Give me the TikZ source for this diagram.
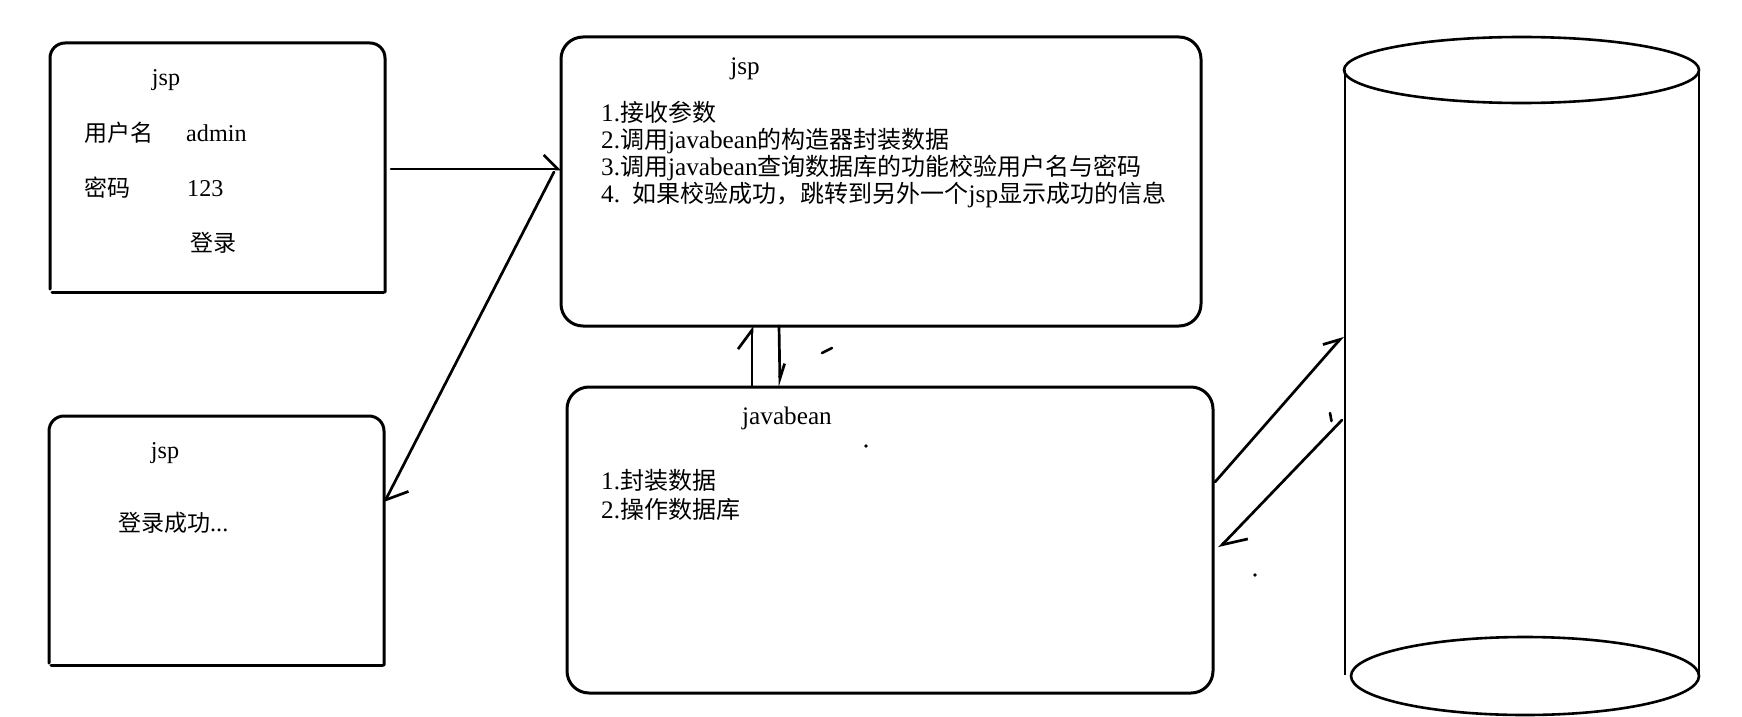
\documentclass[tikz,border=0pt]{standalone}
\usepackage{fontspec}
\setmainfont{Liberation Serif}[Scale=1.05]
\newfontfamily\cjkf{Noto Sans CJK SC}
\newcommand{\zhs}[1]{{\cjkf #1}}
\usetikzlibrary{arrows.meta,calc}
\begin{document}
\begin{tikzpicture}[x=1pt,y=-1pt,
  boxline/.style={line width=3pt, line cap=round, line join=round},
  frame/.style={inner sep=0pt, outer sep=0pt},
  rbox/.style={draw, line width=3pt, rounded corners=22pt, inner sep=0pt, outer sep=0pt},
  txtA/.style={inner sep=0pt, font=\fontsize{23}{27}\selectfont, text height=0.8em, text depth=0.15em},
  txtB/.style={inner sep=0pt, font=\fontsize{24}{28}\selectfont, text height=0.8em, text depth=0.15em},
  arr/.style={line width=2.7pt, line cap=round},
  cyl/.style={line width=2.6pt},
  penmark/.style={line width=2.6pt, line cap=round}]
\useasboundingbox (0,0) rectangle (1742,717);

% ---- login jsp (A) ----
\node[frame, minimum width=335pt, minimum height=249pt] (A) at (217.5,167.5) {};
\draw[boxline] ($(A.south west)+(0,-3)$) [rounded corners=15pt] -- (A.north west) -- (A.north east) [sharp corners] -- (A.south east);
\draw[boxline] ($(A.south west)+(2,0)$) -- ($(A.south east)+(-1,0)$);
\node[txtA] (A0) at (166,82) {jsp};
\node[txtA, anchor=west] (A1) at (84,138) {\zhs{用户名}};
\node[txtA, anchor=west] (A2) at (186,138) {admin};
\node[txtA, anchor=west] (A3) at (84,193) {\zhs{密码}};
\node[txtA, anchor=west] (A4) at (187,193) {123};
\node[txtA] (A5) at (213,248) {\zhs{登录}};

% ---- success jsp (D) ----
\node[frame, minimum width=335pt, minimum height=249pt] (D) at (216.5,540.5) {};
\draw[boxline] ($(D.south west)+(0,-2)$) [rounded corners=15pt] -- (D.north west) -- (D.north east) [sharp corners] -- (D.south east);
\draw[boxline] ($(D.south west)+(2,0)$) -- ($(D.south east)+(-1,0)$);
\node[txtA] (D0) at (165,455) {jsp};
\node[txtA, anchor=west] (D1) at (118,528) {\zhs{登录成功}...};

% ---- processing jsp (B) ----
\node[rbox, minimum width=640pt, minimum height=289pt] (B) at (881,181.5) {};
\node[txtB] (B0) at (745,71) {jsp};
\node[txtB, anchor=west] (B1) at (601,118) {1.\zhs{接收参数}};
\node[txtB, anchor=west] (B2) at (601,145) {2.\zhs{调用}javabean\zhs{的构造器封装数据}};
\node[txtB, anchor=west] (B3) at (601,172) {3.\zhs{调用}javabean\zhs{查询数据库的功能校验用户名与密码}};
\node[txtB, anchor=west] (B4) at (601,199) {4.\ \ \zhs{如果校验成功，跳转到另外一个}jsp\zhs{显示成功的信息}};

% ---- javabean (C) ----
\node[rbox, minimum width=646pt, minimum height=306pt] (C) at (890,540) {};
\node[txtB] (C0) at (787,421) {javabean};
\node[txtB, anchor=west] (C1) at (601,486) {1.\zhs{封装数据}};
\node[txtB, anchor=west] (C2) at (601,515) {2.\zhs{操作数据库}};

% ---- database cylinder ----
\node[frame, minimum width=354pt, minimum height=678pt] (db) at (1522,376) {};
\draw[cyl] (1521.5,70) ellipse [x radius=177.5, y radius=33];
\draw[cyl] (1525,676) ellipse [x radius=174, y radius=39];
\draw[cyl] (1345,70) -- (1345,675);
\draw[cyl] (1699,70) -- (1699,676);
\coordinate (dbA) at ($(db.west)+(-2,-40)$);
\coordinate (dbB) at ($(db.west)+(-3,44)$);

% ---- connectors ----
\draw[arr, -{Straight Barb[harpoon, length=14pt, width=28pt]}]
  ($(A.east)+(6,1.5)$) -- ($(B.west)+(0,-12.5)$);
\draw[arr, -{Straight Barb[harpoon, length=18pt, width=33pt]}]
  ($(B.west)+(-7,-9.5)$) -- ($(D.east)+(0,-37.5)$);
\draw[arr, -{Straight Barb[harpoon, length=19pt, width=28pt]}]
  ($(C.north)+(-138,0)$) -- ($(B.south)+(-129,0)$);
\draw[arr, -{Straight Barb[harpoon, length=15pt, width=10pt]}]
  ($(B.south)+(-102,0)$) -- ($(C.north)+(-110,0)$);
\draw[arr, -{Straight Barb[harpoon, length=15pt, width=19pt]}]
  ($(C.east)+(2,-58)$) -- (dbA);
\draw[arr, -{Straight Barb[harpoon, length=22pt, width=29pt]}]
  (dbB) -- ($(C.east)+(6,8)$);

% ---- stray pen marks ----
\draw[penmark] (822,353) -- (832,348);
\draw[penmark] (1330,413) -- (1331.5,421);
\fill (866,446) circle [radius=1.8];
\fill (1255,575) circle [radius=1.8];
\end{tikzpicture}
\end{document}
